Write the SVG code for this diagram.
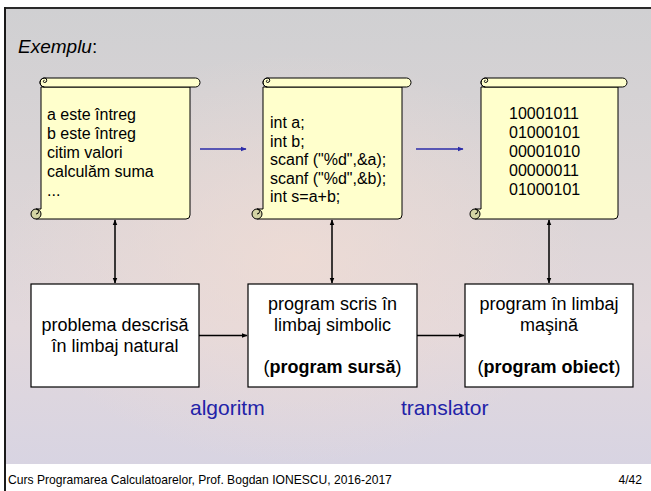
<svg xmlns="http://www.w3.org/2000/svg" width="651" height="491" viewBox="0 0 651 491">
<defs>
<linearGradient id="bg" x1="0" y1="0" x2="0" y2="1">
<stop offset="0" stop-color="#d0d0d2"/>
<stop offset="0.45" stop-color="#dcd5d7"/>
<stop offset="0.7" stop-color="#e2d8dc"/>
<stop offset="1" stop-color="#d8d4e2"/>
</linearGradient>
<radialGradient id="glow" cx="0.45" cy="0.55" r="0.45">
<stop offset="0" stop-color="#f0dcd4" stop-opacity="0.8"/>
<stop offset="1" stop-color="#f0dcd4" stop-opacity="0"/>
</radialGradient>
<marker id="ab" viewBox="0 0 10 10" refX="9" refY="5" markerWidth="6" markerHeight="6" orient="auto-start-reverse" markerUnits="userSpaceOnUse">
<path d="M0,1 L10,5 L0,9 z" fill="#000"/>
</marker>
<marker id="abl" viewBox="0 0 10 10" refX="9" refY="5" markerWidth="6" markerHeight="6" orient="auto" markerUnits="userSpaceOnUse">
<path d="M0,1 L10,5 L0,9 z" fill="#2b2ba8"/>
</marker>
</defs>
<style>
.scroll{fill:#ffffcc;stroke:#000;stroke-width:1}
.curl{fill:#d4d4a4;stroke:#000;stroke-width:1}
.box{fill:#fff;stroke:#000;stroke-width:1.2}
.t{font-family:"Liberation Sans",Arial,sans-serif;font-size:16px;fill:#000}
.bt{font-family:"Liberation Sans",Arial,sans-serif;font-size:18px;fill:#000;text-anchor:middle}
.lbl{font-family:"Liberation Sans",Arial,sans-serif;font-size:21px;fill:#2222a8}
.ft{font-family:"Liberation Sans",Arial,sans-serif;font-size:12.1px;fill:#000}
.blk{stroke:#000;stroke-width:1.5;fill:none}
.blu{stroke:#2b2ba8;stroke-width:1.5;fill:none}
.ln{fill:none;stroke:#000;stroke-width:1}
</style>
<rect x="0" y="0" width="651" height="491" fill="#fff"/>
<rect x="5" y="8" width="646" height="456" fill="url(#bg)"/>
<rect x="5" y="8" width="646" height="456" fill="url(#glow)"/>
<rect x="4" y="7" width="647" height="2" fill="#2a2a2a"/>
<rect x="4" y="7" width="2" height="484" fill="#1a1a1a"/>

<text x="18" y="53" font-family="Liberation Sans, Arial, sans-serif" font-size="19" fill="#000"><tspan font-style="italic">Exemplu</tspan>:</text>

<g id="scroll1">
<path class="scroll" d="M41,87 L190,87 L190,215 Q190,219 186,219 L36,219 L36,209 L41,209 Z"/>
<circle class="curl" cx="36" cy="214" r="5"/>
<path class="ln" d="M36,209 A2.5,2.5 0 0 1 36,214"/>
<rect class="scroll" x="40" y="78" width="160" height="9" rx="4.5"/>
<path class="ln" d="M44.5,87 A4.5,4.5 0 0 1 44.5,78 M44.5,78 A2.25,2.25 0 0 1 44.5,82.5 A1.1,1.1 0 0 1 44.5,80.3"/>
<text class="t" x="47" y="120">a este întreg</text>
<text class="t" x="47" y="139">b este întreg</text>
<text class="t" x="47" y="158">citim valori</text>
<text class="t" x="47" y="177">calculăm suma</text>
<text class="t" x="47" y="196">...</text>
</g>

<g id="scroll2">
<path class="scroll" d="M263,87 L402,87 L402,215 Q402,219 398,219 L257,219 L257,209 L263,209 Z"/>
<circle class="curl" cx="257" cy="214" r="5"/>
<path class="ln" d="M257,209 A2.5,2.5 0 0 1 257,214"/>
<rect class="scroll" x="263" y="78" width="148" height="9" rx="4.5"/>
<path class="ln" d="M267.5,87 A4.5,4.5 0 0 1 267.5,78 M267.5,78 A2.25,2.25 0 0 1 267.5,82.5 A1.1,1.1 0 0 1 267.5,80.3"/>
<text class="t" x="270" y="128">int a;</text>
<text class="t" x="270" y="146.5">int b;</text>
<text class="t" x="270" y="165">scanf ("%d",&amp;a);</text>
<text class="t" x="270" y="183.5">scanf ("%d",&amp;b);</text>
<text class="t" x="270" y="202">int s=a+b;</text>
</g>

<g id="scroll3">
<path class="scroll" d="M481,87 L618,87 L618,215 Q618,219 614,219 L475,219 L475,209 L481,209 Z"/>
<circle class="curl" cx="475" cy="214" r="5"/>
<path class="ln" d="M475,209 A2.5,2.5 0 0 1 475,214"/>
<rect class="scroll" x="481" y="78" width="146" height="9" rx="4.5"/>
<path class="ln" d="M485.5,87 A4.5,4.5 0 0 1 485.5,78 M485.5,78 A2.25,2.25 0 0 1 485.5,82.5 A1.1,1.1 0 0 1 485.5,80.3"/>
<text class="t" x="509" y="119">10001011</text>
<text class="t" x="509" y="138">01000101</text>
<text class="t" x="509" y="157">00001010</text>
<text class="t" x="509" y="176">00000011</text>
<text class="t" x="509" y="195">01000101</text>
</g>

<g id="box1">
<rect class="box" x="31" y="284" width="168" height="103"/>
<text class="bt" x="115" y="331">problema descrisă</text>
<text class="bt" x="115" y="352">în limbaj natural</text>
</g>

<g id="box2">
<rect class="box" x="248" y="284" width="169" height="103"/>
<text class="bt" x="332.5" y="310">program scris în</text>
<text class="bt" x="332.5" y="331">limbaj simbolic</text>
<text class="bt" x="332.5" y="373">(<tspan font-weight="bold">program sursă</tspan>)</text>
</g>

<g id="box3">
<rect class="box" x="465" y="284" width="168" height="103"/>
<text class="bt" x="549" y="310">program în limbaj</text>
<text class="bt" x="549" y="331">maşină</text>
<text class="bt" x="549" y="373">(<tspan font-weight="bold">program obiect</tspan>)</text>
</g>

<g id="connectors">
<line class="blu" x1="200" y1="149" x2="246" y2="149" marker-end="url(#abl)"/>
<line class="blu" x1="416" y1="149" x2="463" y2="149" marker-end="url(#abl)"/>
<line class="blk" x1="115" y1="220" x2="115" y2="283" marker-start="url(#ab)" marker-end="url(#ab)"/>
<line class="blk" x1="332" y1="220" x2="332" y2="283" marker-start="url(#ab)" marker-end="url(#ab)"/>
<line class="blk" x1="549" y1="220" x2="549" y2="283" marker-start="url(#ab)" marker-end="url(#ab)"/>
<line class="blk" x1="199" y1="335.5" x2="247" y2="335.5" marker-end="url(#ab)"/>
<line class="blk" x1="417" y1="335.5" x2="464" y2="335.5" marker-end="url(#ab)"/>
</g>

<text class="lbl" x="190" y="415">algoritm</text>
<text class="lbl" x="401" y="415">translator</text>

<text class="ft" x="8" y="484">Curs Programarea Calculatoarelor, Prof. Bogdan IONESCU, 2016-2017</text>
<text class="ft" x="642" y="484" text-anchor="end">4/42</text>
</svg>
